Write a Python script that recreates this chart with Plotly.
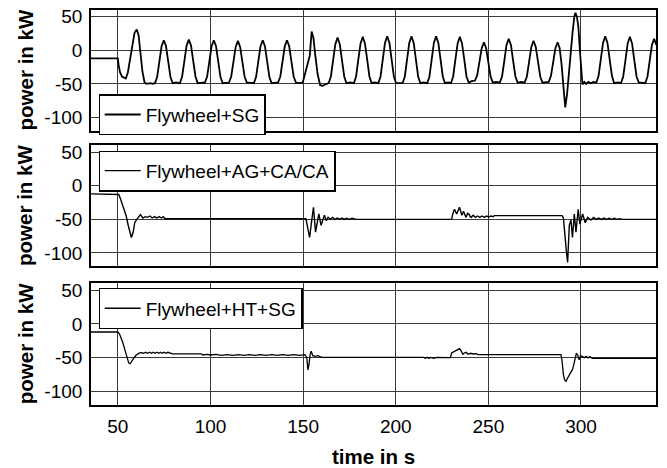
import plotly.graph_objects as go

# ---------------- data ----------------
t_sg = [35.5, 50, 50.4, 51.2, 52.2, 53.2, 54.3, 55.4, 56.6, 57.8, 59, 60.2, 61.2, 62.2, 63.3, 64.4, 65.5, 67.5, 68.8,
        70.0, 71.2, 72.4, 73.6, 74.8, 76.0, 77.2, 78.4, 79.6, 81.5,
        83.5, 84.7, 85.9, 87.1, 88.3, 89.5, 90.7, 91.9, 93.1, 95.0,
        97.0, 98.2, 99.4, 100.6, 101.8, 103.0, 104.2, 105.4, 106.6, 108.4,
        110.0, 111.2, 112.4, 113.6, 114.8, 116.0, 117.2, 118.4, 119.6, 121.5,
        123.4, 124.6, 125.8, 127.0, 128.2, 129.4, 130.6, 131.8, 133.0, 134.8,
        136.5, 137.7, 138.9, 140.1, 141.3, 142.5, 143.7, 144.9, 146.1, 148.0,
        149.8, 150.8, 151.8, 152.8, 153.6, 154.6, 155.6, 156.6, 157.8, 159.2, 160.5, 162.0,
        163.8, 165.0, 166.2, 167.4, 168.6, 169.8, 171.0, 172.2, 173.4, 175.4,
        177.4, 178.6, 179.8, 181.0, 182.2, 183.4, 184.6, 185.8, 187.0, 188.8,
        190.6, 191.8, 193.0, 194.2, 195.4, 196.6, 197.8, 199.0, 200.2, 202.0,
        203.7, 204.9, 206.1, 207.3, 208.5, 209.7, 210.9, 212.1, 213.3, 215.0,
        217.0, 218.2, 219.4, 220.6, 221.8, 223.0, 224.2, 225.4, 226.6, 228.3,
        229.8, 231.0, 232.2, 233.4, 234.6, 235.8, 237.0, 238.2, 239.4, 241.0,
        242.8, 244.0, 245.2, 246.4, 247.6, 248.8, 250.0, 251.2, 252.4, 254.3,
        256.2, 257.4, 258.6, 259.8, 261.0, 262.2, 263.4, 264.6, 265.8, 267.7,
        269.6, 270.8, 272.0, 273.2, 274.4, 275.6, 276.8, 278.0, 279.2, 281.0,
        282.6, 283.8, 285.0, 286.2, 287.4, 288.5, 289.5, 290.5, 291.5, 292.5, 293.5, 294.5,
        295.5, 296.4, 297.0, 297.8, 298.6, 299.4, 300.2, 300.8, 301.8, 302.8, 304.0, 305.2, 306.6,
        308.3, 309.5, 310.7, 311.9, 313.1, 314.3, 315.5, 316.7, 317.9, 320.0,
        321.6, 322.8, 324.0, 325.2, 326.4, 327.6, 328.8, 330.0, 331.2, 333.0,
        334.7, 335.9, 337.1, 338.3, 339.5, 340.7]
p_sg = [-12, -12, -22, -33, -39, -41, -42, -33, -14, 8, 26, 31, 22, -4, -32, -48, -50, -49, -50,
        -49, -40, -17, 6, 15, 6, -17, -40, -49, -48,
        -49, -39, -16, 7, 16, 7, -16, -39, -49, -48,
        -48, -39, -16, 6, 15, 6, -17, -40, -49, -48,
        -48, -39, -17, 5, 14, 5, -17, -39, -48, -49,
        -49, -40, -17, 6, 15, 6, -17, -40, -49, -48,
        -48, -39, -16, 6, 15, 6, -17, -39, -48, -49,
        -48, -38, -24, -15, -8, 28, 18, -8, -35, -52, -53, -51,
        -49, -39, -15, 9, 19, 9, -15, -39, -49, -48,
        -49, -39, -14, 10, 20, 10, -14, -39, -49, -48,
        -49, -39, -14, 11, 21, 11, -14, -39, -49, -49,
        -49, -39, -14, 11, 21, 11, -14, -39, -49, -48,
        -49, -39, -14, 11, 21, 11, -14, -39, -49, -48,
        -49, -39, -14, 10, 20, 10, -14, -39, -48, -46,
        -45, -37, -17, 3, 12, 3, -18, -39, -48, -47,
        -48, -39, -16, 8, 17, 8, -16, -39, -48, -47,
        -48, -39, -17, 5, 14, 5, -17, -39, -48, -47,
        -47, -38, -18, 3, 12, 3, -20, -55, -85, -65, -30, 0,
        28, 50, 56, 50, 35, 0, -35, -51, -47, -50, -47, -49, -47,
        -48, -38, -14, 11, 21, 11, -14, -38, -49, -48,
        -49, -39, -15, 10, 20, 10, -15, -39, -48, -48,
        -49, -39, -16, 8, 17, 8]

t_ag = [35, 50, 50.5, 51.5, 52.5, 53.5, 54.5, 55.5, 56.5, 57.3, 58.2, 59.1, 60.2, 61.2, 62.2,
        63.5, 64.8, 66, 67.3, 68.5, 69.8, 71, 72.3, 73.5, 74.5, 75.5, 100, 120, 150,
        151.5, 152.3, 153.5, 154.5, 155.6, 156.7, 157.6, 158.5, 159.7, 160.6, 161.5, 162.5,
        163.5, 164.8, 166, 167.2, 168.5, 169.8, 171, 172.3, 173.5, 175, 176.5, 178.6, 180, 200,
        230.2, 230.8, 231.7, 232.9, 233.6, 234.4, 235.7, 236.6, 237.3, 238, 238.8, 239.5, 240.2,
        240.8, 241.8, 243, 244.2, 245.4, 246.6, 247.8, 249, 250.2, 251.4, 252.6, 253.2, 270,
        289.8, 290.5, 291.5, 292.2, 292.8, 293.7, 294.6, 295.4, 296.4, 297.3, 298.5, 299.4,
        300.9, 302.3, 303.6, 305.4, 306.8, 308.2, 309.6, 311, 312.4, 313.8, 315.2, 316.6, 318,
        319.4, 320.8, 322.4, 340.5]
p_ag = [-12, -12, -13, -20, -28, -38, -45, -58, -70, -77, -70, -55, -50, -47, -43,
        -48, -46, -47, -45, -48, -46, -48, -46, -48, -46, -49, -49, -49.5, -49.5,
        -49, -60, -77, -55, -32, -69, -55, -42, -59, -50, -44, -52,
        -47, -50, -47, -50, -48, -50, -48, -50, -48.5, -50, -48.5, -50, -50, -50,
        -50, -42, -35, -42, -38, -32, -44, -38, -43, -47, -41, -42, -46,
        -47, -44, -47, -45, -47, -45, -47, -45, -46.5, -45, -46, -44.5, -44.5,
        -44.5, -48, -84, -100, -114, -59, -51, -77, -42, -69, -35, -57,
        -42, -55, -47, -51, -47, -50, -48, -50, -48, -50, -48.5, -50, -48.5,
        -50, -49, -50, -50]

t_ht = [35, 50, 50.9, 52.7, 54.5, 55.9, 56.6, 57.2, 58.5, 59.9, 61.7, 63, 64, 65, 66, 67, 68, 69,
        70, 71, 72, 73, 74, 75, 76, 77, 78.7, 79.5, 95, 96, 98, 100, 103, 106, 109, 112, 115,
        118, 121, 124, 127, 130, 133, 136, 139, 142, 145, 148, 151, 152, 152.6, 153.2, 153.8,
        154.4, 155.2, 156.5, 158, 160, 215, 216, 217, 218, 219, 220.5, 222, 229.5, 230.2,
        231.5, 232.5, 234.4, 235.3, 236.2, 237, 238, 239, 240.5, 242, 243.4, 244.5, 289.2,
        289.8, 290.5, 291.2, 291.9, 292.8, 293.7, 294.6, 295.5, 296.3, 296.9, 297.5, 298.1,
        299, 299.8, 300.8, 301.8, 302.8, 303.8, 304.8, 306.1, 340.5]
p_ht = [-12, -12, -15, -28, -45, -58, -59, -56, -51, -46, -43, -42.5, -43.5, -42, -43.5, -42, -43.5, -42,
        -43.5, -42, -43.5, -42, -43.5, -42, -43.5, -42, -43, -44.5, -44.5, -46, -45, -46, -45, -46.5, -45.5, -46.5, -45.5,
        -46.5, -45.5, -46.5, -45.5, -46.5, -45.5, -46.5, -45.5, -46.5, -45.5, -46.5, -45.5, -50, -68, -60, -45,
        -40.5, -47, -48, -47, -49.5, -49.5, -51, -49.5, -51, -49.5, -51, -49.5, -50, -43,
        -41, -39, -36.5, -40, -45, -43, -42, -45, -43.5, -44.5, -44, -45.5, -45.5,
        -55, -75, -83, -85, -80, -75, -72, -67, -58, -48, -44, -45,
        -53, -47, -48, -50, -48, -50.5, -48.5, -51, -51]

names = ["Flywheel+SG", "Flywheel+AG+CA/CA", "Flywheel+HT+SG"]
x_ticks = [50, 100, 150, 200, 250, 300]
y_ticks = [50, 0, -50, -100]
x_range = [35.5, 340.5]
y_range = [-120, 60]

# ---------------- figure ----------------
FONT = "Liberation Sans, Arial, Helvetica, sans-serif"
fig = go.Figure()

series = [(t_sg, p_sg, 1.8), (t_ag, p_ag, 1.4), (t_ht, p_ht, 1.3)]
legend_ids = ["legend", "legend2", "legend3"]
for i, (tt, pp, w) in enumerate(series):
    fig.add_trace(go.Scatter(
        x=tt, y=pp, mode="lines", name=names[i],
        line=dict(color="black", width=w),
        xaxis="x" if i == 0 else f"x{i+1}",
        yaxis="y" if i == 0 else f"y{i+1}",
        legend=legend_ids[i], showlegend=True,
    ))

domains = [[0.694, 1.0], [0.351, 0.657], [0.0, 0.308]]
legend_tops = [0.7862, 0.6441, 0.2957]

axis_common = dict(
    showline=True, linecolor="black", linewidth=1.6, mirror=True,
    showgrid=True, gridcolor="#3a3a3a", gridwidth=1,
    zeroline=False, ticks="",
    tickfont=dict(family=FONT, size=19, color="black"),
)

layout = dict(
    width=667, height=468,
    margin=dict(l=91, r=10.5, t=6, b=63),
    paper_bgcolor="white", plot_bgcolor="white",
    font=dict(family=FONT, color="black"),
    showlegend=True,
    annotations=[],
)

for i in range(3):
    xname = "xaxis" if i == 0 else f"xaxis{i+1}"
    yname = "yaxis" if i == 0 else f"yaxis{i+1}"
    ya = "y" if i == 0 else f"y{i+1}"
    xa = "x" if i == 0 else f"x{i+1}"
    layout[xname] = dict(axis_common, range=x_range, tickvals=x_ticks,
                         showticklabels=(i == 2), anchor=ya, domain=[0, 1],
                         ticklabelstandoff=3)
    layout[yname] = dict(axis_common, range=y_range, tickvals=y_ticks,
                         ticktext=[str(v) for v in y_ticks],
                         anchor=xa, domain=domains[i], ticklabelstandoff=3)
    layout[legend_ids[i]] = dict(
        x=0.0133, xanchor="left", y=legend_tops[i], yanchor="top",
        bgcolor="white", bordercolor="black", borderwidth=1.2,
        font=dict(family=FONT, size=19, color="black"),
        itemwidth=36, visible=True,
    )
    mid = (domains[i][0] + domains[i][1]) / 2
    layout["annotations"].append(dict(
        text="<b>power in kW</b>", textangle=-90,
        xref="paper", yref="paper", x=0, y=mid, xanchor="center", yanchor="middle",
        xshift=-66, showarrow=False,
        font=dict(family=FONT, size=20.5, color="black"),
    ))

layout["annotations"].append(dict(
    text="<b>time in s</b>", xref="paper", yref="paper", x=0.5, y=0,
    xanchor="center", yanchor="middle", yshift=-51, showarrow=False,
    font=dict(family=FONT, size=20.5, color="black"),
))

fig.update_layout(**layout)
fig.write_html("out.html", config={"displayModeBar": False},
               post_script="document.body.style.margin='0';document.body.style.padding='0';")
